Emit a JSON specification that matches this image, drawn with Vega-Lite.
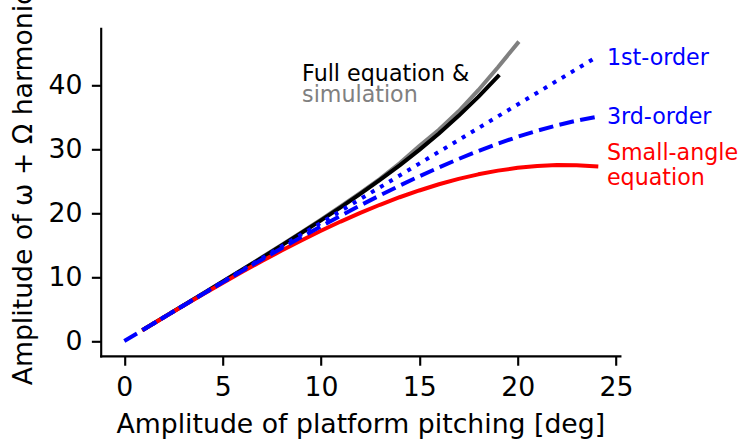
{
  "$schema": "https://vega.github.io/schema/vega-lite/v6.json",
  "autosize": "none",
  "padding": {"left": 100.7, "top": 28.3, "right": 118.1, "bottom": 86.1},
  "width": 519.2,
  "height": 327.6,
  "background": "white",
  "config": {
    "view": {"stroke": null},
    "font": "DejaVu Sans",
    "axis": {
      "grid": false,
      "domainColor": "black",
      "domainWidth": 2.13,
      "domainCap": "square",
      "tickColor": "black",
      "tickWidth": 2.13,
      "tickSize": 9.33,
      "labelPadding": 9.33,
      "labelFont": "DejaVu Sans",
      "labelFontSize": 26.7,
      "labelColor": "black",
      "titleFont": "DejaVu Sans",
      "titleFontSize": 26.7,
      "titleFontWeight": "normal",
      "titleColor": "black",
      "titlePadding": 10.7
    }
  },
  "datasets": {
    "curves": [
      {"series": "simulation", "x": 1, "y": 1.86},
      {"series": "simulation", "x": 2, "y": 3.72},
      {"series": "simulation", "x": 3, "y": 5.58},
      {"series": "simulation", "x": 4, "y": 7.44},
      {"series": "simulation", "x": 5, "y": 9.32},
      {"series": "simulation", "x": 6, "y": 11.21},
      {"series": "simulation", "x": 7, "y": 13.12},
      {"series": "simulation", "x": 8, "y": 15.05},
      {"series": "simulation", "x": 9, "y": 17.02},
      {"series": "simulation", "x": 10, "y": 19.02},
      {"series": "simulation", "x": 11, "y": 21.08},
      {"series": "simulation", "x": 12, "y": 23.2},
      {"series": "simulation", "x": 13, "y": 25.42},
      {"series": "simulation", "x": 14, "y": 27.85},
      {"series": "simulation", "x": 15, "y": 30.55},
      {"series": "simulation", "x": 16, "y": 33.1},
      {"series": "simulation", "x": 17, "y": 36.0},
      {"series": "simulation", "x": 18, "y": 39.3},
      {"series": "simulation", "x": 19, "y": 42.9},
      {"series": "simulation", "x": 20, "y": 46.67},

      {"series": "full", "x": 1, "y": 1.85},
      {"series": "full", "x": 2, "y": 3.71},
      {"series": "full", "x": 3, "y": 5.56},
      {"series": "full", "x": 4, "y": 7.42},
      {"series": "full", "x": 5, "y": 9.29},
      {"series": "full", "x": 6, "y": 11.17},
      {"series": "full", "x": 7, "y": 13.06},
      {"series": "full", "x": 8, "y": 14.98},
      {"series": "full", "x": 9, "y": 16.93},
      {"series": "full", "x": 10, "y": 18.91},
      {"series": "full", "x": 11, "y": 20.95},
      {"series": "full", "x": 12, "y": 23.05},
      {"series": "full", "x": 13, "y": 25.24},
      {"series": "full", "x": 14, "y": 27.53},
      {"series": "full", "x": 15, "y": 29.95},
      {"series": "full", "x": 16, "y": 32.53},
      {"series": "full", "x": 17, "y": 35.28},
      {"series": "full", "x": 18, "y": 38.26},
      {"series": "full", "x": 19, "y": 41.49},

      {"series": "small", "x": 1, "y": 1.85},
      {"series": "small", "x": 2, "y": 3.69},
      {"series": "small", "x": 3, "y": 5.52},
      {"series": "small", "x": 4, "y": 7.32},
      {"series": "small", "x": 5, "y": 9.10},
      {"series": "small", "x": 6, "y": 10.84},
      {"series": "small", "x": 7, "y": 12.53},
      {"series": "small", "x": 8, "y": 14.17},
      {"series": "small", "x": 9, "y": 15.76},
      {"series": "small", "x": 10, "y": 17.27},
      {"series": "small", "x": 11, "y": 18.72},
      {"series": "small", "x": 12, "y": 20.08},
      {"series": "small", "x": 13, "y": 21.35},
      {"series": "small", "x": 14, "y": 22.53},
      {"series": "small", "x": 15, "y": 23.59},
      {"series": "small", "x": 16, "y": 24.56},
      {"series": "small", "x": 17, "y": 25.40},
      {"series": "small", "x": 18, "y": 26.12},
      {"series": "small", "x": 19, "y": 26.70},
      {"series": "small", "x": 20, "y": 27.14},
      {"series": "small", "x": 21, "y": 27.44},
      {"series": "small", "x": 22, "y": 27.58},
      {"series": "small", "x": 23, "y": 27.55},
      {"series": "small", "x": 24, "y": 27.36},

      {"series": "first", "x": 1, "y": 1.85},
      {"series": "first", "x": 2, "y": 3.71},
      {"series": "first", "x": 3, "y": 5.56},
      {"series": "first", "x": 4, "y": 7.41},
      {"series": "first", "x": 5, "y": 9.27},
      {"series": "first", "x": 6, "y": 11.12},
      {"series": "first", "x": 7, "y": 12.97},
      {"series": "first", "x": 8, "y": 14.82},
      {"series": "first", "x": 9, "y": 16.68},
      {"series": "first", "x": 10, "y": 18.53},
      {"series": "first", "x": 11, "y": 20.38},
      {"series": "first", "x": 12, "y": 22.24},
      {"series": "first", "x": 13, "y": 24.09},
      {"series": "first", "x": 14, "y": 25.94},
      {"series": "first", "x": 15, "y": 27.80},
      {"series": "first", "x": 16, "y": 29.65},
      {"series": "first", "x": 17, "y": 31.50},
      {"series": "first", "x": 18, "y": 33.35},
      {"series": "first", "x": 19, "y": 35.21},
      {"series": "first", "x": 20, "y": 37.06},
      {"series": "first", "x": 21, "y": 38.91},
      {"series": "first", "x": 22, "y": 40.77},
      {"series": "first", "x": 23, "y": 42.62},
      {"series": "first", "x": 24, "y": 44.47},

      {"series": "third", "x": 0, "y": 0},
      {"series": "third", "x": 1, "y": 1.85},
      {"series": "third", "x": 2, "y": 3.70},
      {"series": "third", "x": 3, "y": 5.54},
      {"series": "third", "x": 4, "y": 7.38},
      {"series": "third", "x": 5, "y": 9.19},
      {"series": "third", "x": 6, "y": 11.00},
      {"series": "third", "x": 7, "y": 12.79},
      {"series": "third", "x": 8, "y": 14.55},
      {"series": "third", "x": 9, "y": 16.28},
      {"series": "third", "x": 10, "y": 17.97},
      {"series": "third", "x": 11, "y": 19.63},
      {"series": "third", "x": 12, "y": 21.25},
      {"series": "third", "x": 13, "y": 22.83},
      {"series": "third", "x": 14, "y": 24.35},
      {"series": "third", "x": 15, "y": 25.81},
      {"series": "third", "x": 16, "y": 27.20},
      {"series": "third", "x": 17, "y": 28.53},
      {"series": "third", "x": 18, "y": 29.77},
      {"series": "third", "x": 19, "y": 30.93},
      {"series": "third", "x": 20, "y": 32.00},
      {"series": "third", "x": 21, "y": 32.96},
      {"series": "third", "x": 22, "y": 33.80},
      {"series": "third", "x": 23, "y": 34.53},
      {"series": "third", "x": 24, "y": 35.11}
    ],
    "labels": [
      {"group": "full", "label": "Full equation &", "x": 9.04, "y": 40.75},
      {"group": "simulation", "label": "simulation", "x": 9.04, "y": 37.5},
      {"group": "first", "label": "1st-order", "x": 24.54, "y": 43.26},
      {"group": "third", "label": "3rd-order", "x": 24.54, "y": 33.96},
      {"group": "small", "label": "Small-angle", "x": 24.54, "y": 28.37},
      {"group": "small", "label": "equation", "x": 24.54, "y": 24.45}
    ]
  },
  "encoding": {
    "x": {
      "field": "x",
      "type": "quantitative",
      "scale": {"domain": [-1.2, 25.2], "nice": false, "zero": false},
      "axis": {"values": [0, 5, 10, 15, 20, 25], "title": "Amplitude of platform pitching [deg]"}
    },
    "y": {
      "field": "y",
      "type": "quantitative",
      "scale": {"domain": [-2.33, 49.0], "nice": false, "zero": false},
      "axis": {"values": [0, 10, 20, 30, 40], "title": "Amplitude of ω + Ω harmonic", "titleY": 159}
    }
  },
  "layer": [
    {
      "data": {"name": "curves"},
      "transform": [{"filter": "datum.series === 'simulation'"}],
      "mark": {"type": "line", "color": "#808080", "strokeWidth": 4, "strokeCap": "square", "strokeJoin": "round"}
    },
    {
      "data": {"name": "curves"},
      "transform": [{"filter": "datum.series === 'full'"}],
      "mark": {"type": "line", "color": "black", "strokeWidth": 4, "strokeCap": "square", "strokeJoin": "round"}
    },
    {
      "data": {"name": "curves"},
      "transform": [{"filter": "datum.series === 'small'"}],
      "mark": {"type": "line", "color": "#ff0000", "strokeWidth": 4, "strokeCap": "square", "strokeJoin": "round"}
    },
    {
      "data": {"name": "curves"},
      "transform": [{"filter": "datum.series === 'first'"}],
      "mark": {"type": "line", "color": "#0000ff", "strokeWidth": 4, "strokeDash": [4, 6.6], "strokeJoin": "round"}
    },
    {
      "data": {"name": "curves"},
      "transform": [{"filter": "datum.series === 'third'"}],
      "mark": {"type": "line", "color": "#0000ff", "strokeWidth": 4, "strokeDash": [14.8, 6.4], "strokeJoin": "round"}
    },
    {
      "data": {"name": "labels"},
      "mark": {"type": "text", "align": "left", "baseline": "alphabetic", "fontSize": 22.2, "font": "DejaVu Sans"},
      "encoding": {
        "text": {"field": "label", "type": "nominal"},
        "color": {
          "field": "group",
          "type": "nominal",
          "scale": {
            "domain": ["full", "simulation", "first", "third", "small"],
            "range": ["black", "#808080", "#0000ff", "#0000ff", "#ff0000"]
          },
          "legend": null
        }
      }
    }
  ]
}
